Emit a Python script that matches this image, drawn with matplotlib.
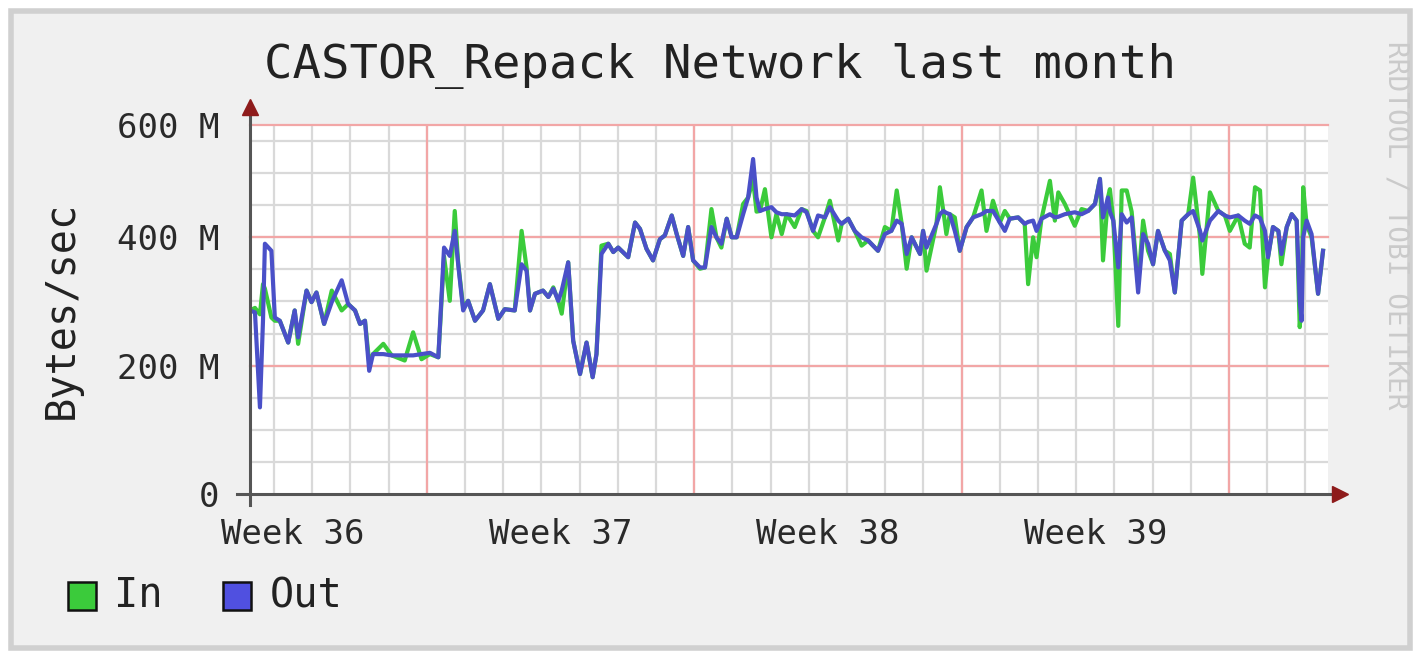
import matplotlib
matplotlib.use("Agg")
import matplotlib.pyplot as plt
from matplotlib.patches import Rectangle

plt.rcParams['font.family'] = ['DejaVu Sans Mono', 'DejaVu Sans']

# time in days since monday of week 36, values in MB/s
t_days = [2.37, 2.50, 2.63, 2.71, 2.76, 2.93, 3.02, 3.15, 3.37, 3.54, 3.63, 3.85, 3.98, 4.11, 4.31,
          4.51, 4.77, 4.94, 5.12, 5.25, 5.38, 5.49, 5.59, 5.86, 6.08, 6.42, 6.64, 6.86, 7.08, 7.30,
          7.45, 7.60, 7.73, 7.82, 7.95, 8.08, 8.26, 8.47, 8.65, 8.87, 9.04, 9.30, 9.48, 9.61, 9.70,
          9.83, 10.04, 10.18, 10.31, 10.44, 10.53, 10.70, 10.83, 11.01, 11.18, 11.34, 11.44, 11.57,
          11.75, 11.88, 12.01, 12.27, 12.45, 12.58, 12.75, 12.92, 13.10, 13.23, 13.41, 13.54, 13.71,
          13.84, 13.97, 14.15, 14.28, 14.45, 14.58, 14.71, 14.85, 14.98, 15.11, 15.28, 15.41, 15.54,
          15.63, 15.72, 15.85, 16.02, 16.15, 16.29, 16.42, 16.63, 16.81, 16.94, 17.11, 17.24, 17.42,
          17.55, 17.77, 17.86, 18.03, 18.20, 18.38, 18.55, 18.81, 18.99, 19.16, 19.30, 19.43, 19.56,
          19.69, 19.91, 19.99, 20.08, 20.34, 20.43, 20.52, 20.60, 20.69, 20.82, 20.95, 21.13, 21.30,
          21.52, 21.65, 21.82, 22.00, 22.13, 22.26, 22.48, 22.65, 22.74, 22.87, 22.96, 23.09, 23.31,
          23.44, 23.53, 23.70, 23.96, 24.14, 24.31, 24.49, 24.62, 24.70, 24.83, 24.88, 24.97, 25.10,
          25.19, 25.32, 25.45, 25.62, 25.75, 25.88, 26.01, 26.14, 26.32, 26.45, 26.58, 26.76, 26.93,
          27.06, 27.24, 27.30, 27.50, 27.72, 27.89, 28.02, 28.24, 28.41, 28.54, 28.68, 28.81, 28.94,
          29.02, 29.15, 29.29, 29.37, 29.51, 29.64, 29.77, 29.85, 29.90, 29.94, 30.03, 30.16, 30.33,
          30.46]

out_mb = [286, 283, 135, 270, 390, 379, 275, 270, 236, 286, 244, 317, 299, 314, 265,
          299, 333, 296, 286, 265, 270, 192, 218, 218, 216, 216, 216, 218, 220, 213,
          384, 371, 410, 358, 286, 301, 270, 286, 327, 273, 288, 286, 358, 348, 286,
          312, 317, 307, 320, 301, 317, 361, 239, 187, 236, 182, 218, 374,
          390, 377, 384, 369, 423, 413, 382, 364, 397, 403, 434, 405, 371,
          416, 364, 353, 353, 416, 400, 390, 429, 400, 400, 436, 462, 522,
          462, 441, 444, 447, 439, 436, 436, 434, 444, 439, 410, 434, 431,
          447, 426, 421, 429, 410, 400, 395, 379, 405, 410, 426, 421, 374,
          400, 374, 410, 384, 421, 436, 441, 438, 436, 410, 379, 416, 431,
          436, 441, 441, 423, 410, 429, 431, 421, 424, 426, 410, 429, 436,
          431, 432, 436, 439, 436, 441, 452, 491, 431, 462, 440, 426, 353,
          436, 423, 431, 314, 405, 390, 358, 410, 379, 364, 314, 426, 436,
          441, 410, 395, 426, 441, 434, 431, 434, 426, 421, 434, 430, 410,
          369, 416, 410, 374, 416, 436, 426, 300, 270, 400, 426, 405, 312,
          379]

in_mb = [286, 290, 280, 327, 320, 275, 270, 270, 236, 286, 234, 317, 299, 314, 265,
         317, 286, 296, 286, 265, 270, 205, 218, 234, 216, 208, 252, 210, 218, 213,
         370, 301, 441, 360, 291, 301, 270, 286, 327, 273, 288, 286, 410, 353, 286,
         312, 317, 307, 322, 301, 281, 361, 239, 187, 236, 182, 218, 387,
         390, 377, 384, 369, 423, 413, 382, 364, 397, 403, 434, 405, 371,
         416, 364, 351, 353, 444, 400, 384, 429, 400, 400, 452, 462, 490,
         440, 441, 475, 400, 436, 405, 436, 416, 444, 441, 410, 400, 431,
         457, 395, 421, 429, 410, 387, 395, 379, 416, 410, 473, 421, 351,
         400, 374, 410, 348, 421, 478, 441, 405, 436, 431, 379, 416, 431,
         473, 410, 457, 423, 441, 429, 431, 421, 327, 400, 369, 429, 488,
         426, 470, 452, 418, 444, 441, 452, 491, 364, 462, 475, 426, 262,
         473, 473, 440, 327, 426, 379, 358, 410, 379, 374, 314, 426, 436,
         493, 400, 343, 470, 441, 434, 410, 434, 390, 384, 478, 473, 322,
         369, 416, 410, 358, 416, 436, 426, 260, 300, 478, 420, 400, 312,
         379]

week_starts = [7, 14, 21, 28]
week_mid = [3.5, 10.5, 17.5, 24.5]
week_labels = ['Week 36', 'Week 37', 'Week 38', 'Week 39']
y_ticks = [0, 200, 400, 575]
y_labels = ['0', '200 M', '400 M', '600 M']

in_color = '#3BCB3B'
out_color = '#4A50C8'
minor_grid = '#D9D9D9'
major_grid = '#F2A6A6'
axis_color = '#555555'
arrow_color = '#8E1B1B'

W, H = 1415, 653
fig = plt.figure(figsize=(W / 100, H / 100), dpi=100)
fig.patch.set_facecolor('white')
fig.patches.append(Rectangle((11 / W, 5 / H), 1399 / W, 637 / H, transform=fig.transFigure,
                             facecolor='#F0F0F0', edgecolor='#D0D0D0', lw=4, zorder=-10))

ax = fig.add_axes([250 / W, (H - 494) / H, 1078 / W, 369 / H])
ax.set_facecolor('white')
ax.set_xlim(2.37, 30.59)
ax.set_ylim(0, 575)

# grid, rrdtool style
for d in range(3, 31):
    ax.axvline(d, color=minor_grid, lw=1.6, zorder=1)
for w in week_starts:
    ax.axvline(w, color=major_grid, lw=1.6, zorder=1.5)
for v in range(50, 575, 50):
    ax.axhline(v, color=minor_grid, lw=1.6, zorder=1)
for v in y_ticks[1:]:
    ax.axhline(v, color=major_grid, lw=1.6, zorder=1.5, clip_on=False)

ax.plot(t_days, in_mb, color=in_color, lw=3, zorder=3)
ax.plot(t_days, out_mb, color=out_color, lw=3, zorder=4)

for s in ax.spines.values():
    s.set_visible(False)

# axes with arrows
ax.plot([0, 0], [-0.03, 1.04], transform=ax.transAxes, color=axis_color, lw=2.2,
        clip_on=False, zorder=5)
ax.plot([-0.012, 1.005], [0, 0], transform=ax.transAxes, color=axis_color, lw=2.2,
        clip_on=False, zorder=5)
ax.plot([0], [1.05], marker='^', ms=11, color=arrow_color, transform=ax.transAxes,
        clip_on=False, zorder=6)
ax.plot([1.011], [0], marker='>', ms=11, color=arrow_color, transform=ax.transAxes,
        clip_on=False, zorder=6)

ax.set_xticks(week_mid, week_labels)
ax.set_yticks(y_ticks, y_labels)
ax.tick_params(axis='x', length=0, pad=17, labelsize=24.5, labelcolor='#2A2A2A')
ax.tick_params(axis='y', length=0, pad=22, labelsize=24.5, labelcolor='#2A2A2A')

fig.text(720 / W, 1 - 66 / H, 'CASTOR_Repack Network last month', ha='center', va='center',
         fontsize=34, color='#222222')
fig.text(62 / W, 1 - 310 / H, 'Bytes/sec', rotation=90, ha='center', va='center',
         fontsize=29, color='#222222')
fig.text(1397 / W, 1 - 225 / H, 'RRDTOOL / TOBI OETIKER', rotation=-90, ha='center',
         va='center', fontsize=20, color='#CACACA')

# legend
fig.patches.append(Rectangle((68 / W, (H - 610) / H), 28 / W, 28 / H, transform=fig.transFigure,
                             facecolor=in_color, edgecolor='#111111', lw=1.8))
fig.text(114 / W, 1 - 596 / H, 'In', ha='left', va='center', fontsize=29, color='#222222')
fig.patches.append(Rectangle((223 / W, (H - 610) / H), 28 / W, 28 / H, transform=fig.transFigure,
                             facecolor='#5050E0', edgecolor='#111111', lw=1.8))
fig.text(270 / W, 1 - 596 / H, 'Out', ha='left', va='center', fontsize=29, color='#222222')

fig.savefig('out.png', dpi=100)
